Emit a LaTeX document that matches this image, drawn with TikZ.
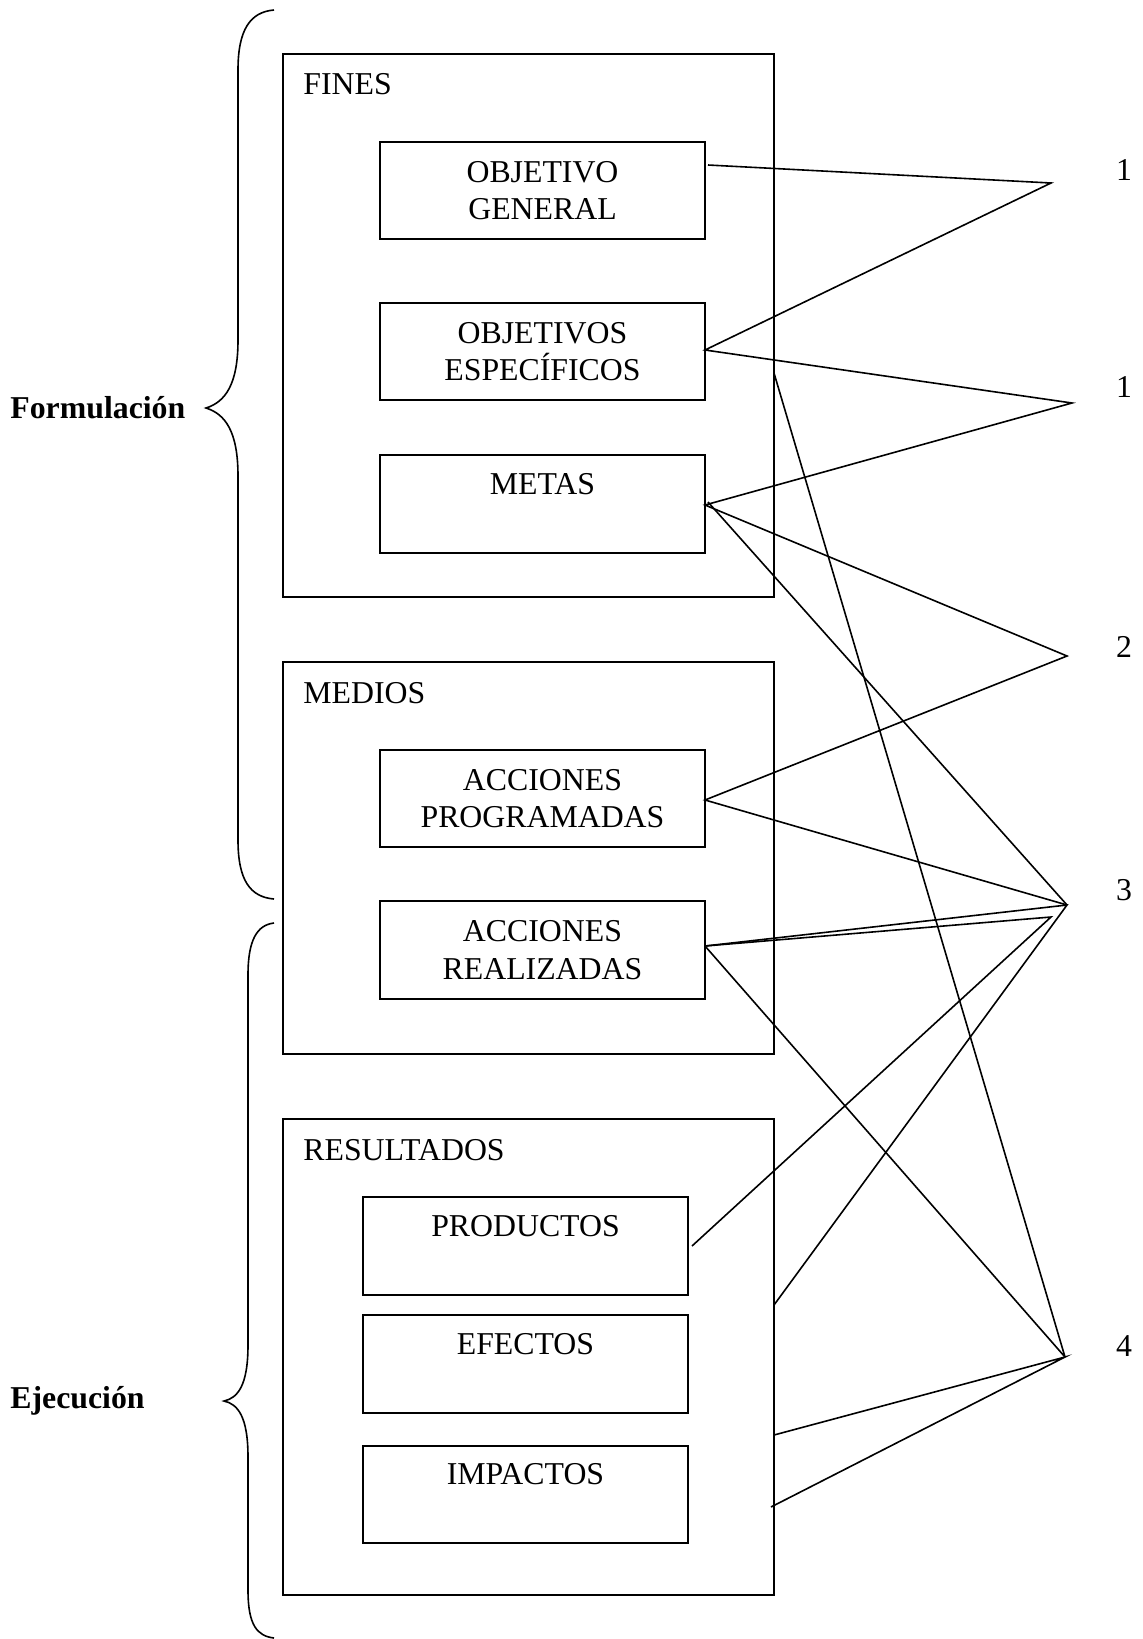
\documentclass[tikz,border=0pt]{standalone}
\usepackage{fontspec}
\setmainfont{Liberation Serif}
\begin{document}
\begin{tikzpicture}[x=0.5pt,y=-0.5pt,
  frame/.style={draw, line width=0.9pt, inner sep=0pt},
  txt/.style={font=\fontsize{15.9}{18.8}\selectfont, align=center, inner sep=0pt},
  lbl/.style={font=\fontsize{15.9}{18.8}\selectfont, anchor=west, inner sep=0pt},
  conn/.style={line width=0.8pt},
  brace/.style={line width=0.8pt}]
\useasboundingbox (0,0) rectangle (1143,1639);
% outer boxes
\node[frame, minimum width=491pt*0.5, minimum height=543pt*0.5] (fines) at (528.5,325.5) {};
\node[frame, minimum width=491pt*0.5, minimum height=392pt*0.5] (medios) at (528.5,858) {};
\node[frame, minimum width=491pt*0.5, minimum height=476pt*0.5] (result) at (528.5,1357) {};
\node[lbl] (finesT) at (303,84) {FINES};
\node[lbl] (mediosT) at (303,693) {MEDIOS};
\node[lbl] (resultT) at (303,1150) {RESULTADOS};
% inner boxes
\node[frame, minimum width=325pt*0.5, minimum height=97pt*0.5] (ogen) at (542.5,190.5) {};
\node[txt] (ogenT) at (542.5,190.5) {OBJETIVO\\GENERAL};
\node[frame, minimum width=325pt*0.5, minimum height=97pt*0.5] (oesp) at (542.5,351.5) {};
\node[txt] (oespT) at (542.5,351.5) {OBJETIVOS\\ESPECÍFICOS};
\node[frame, minimum width=325pt*0.5, minimum height=98pt*0.5] (metas) at (542.5,504) {};
\node[txt] (metasT) at (542.5,484) {METAS};
\node[frame, minimum width=325pt*0.5, minimum height=97pt*0.5] (aprog) at (542.5,798.5) {};
\node[txt] (aprogT) at (542.5,798.5) {ACCIONES\\PROGRAMADAS};
\node[frame, minimum width=325pt*0.5, minimum height=98pt*0.5] (areal) at (542.5,950) {};
\node[txt] (arealT) at (542.5,950) {ACCIONES\\REALIZADAS};
\node[frame, minimum width=325pt*0.5, minimum height=98pt*0.5] (prod) at (525.5,1246) {};
\node[txt] (prodT) at (525.5,1226) {PRODUCTOS};
\node[frame, minimum width=325pt*0.5, minimum height=98pt*0.5] (efec) at (525.5,1364) {};
\node[txt] (efecT) at (525.5,1344) {EFECTOS};
\node[frame, minimum width=325pt*0.5, minimum height=97pt*0.5] (impa) at (525.5,1494.5) {};
\node[txt] (impaT) at (525.5,1474) {IMPACTOS};
% numbers
\node[txt] (n1a) at (1124,170) {1};
\node[txt] (n1b) at (1124,387) {1};
\node[txt] (n2) at (1124,647) {2};
\node[txt] (n3) at (1124,890) {3};
\node[txt] (n4) at (1124,1346) {4};
% side labels
\node[txt, font=\fontsize{15.9}{18.8}\selectfont\bfseries, anchor=west] (form) at (10,408) {Formulación};
\node[txt, font=\fontsize{15.9}{18.8}\selectfont\bfseries, anchor=west] (ejec) at (10,1401) {Ejecución};
% braces
\draw[brace] (274,10) .. controls (250,12) and (238,30) .. (238,70) -- (238,340)
  .. controls (238,385) and (225,402) .. (206,408)
  .. controls (225,414) and (238,431) .. (238,476) -- (238,840)
  .. controls (238,880) and (250,897) .. (274,899);
\draw[brace] (274,923) .. controls (257,925) and (248,940) .. (248,975) -- (248,1345)
  .. controls (248,1385) and (238,1398) .. (224,1401)
  .. controls (238,1404) and (248,1417) .. (248,1457) -- (248,1590)
  .. controls (248,1625) and (257,1636) .. (274,1638);
% connector vertices and ends
\coordinate (v1) at (1051,183);
\coordinate (v2) at (1072,403);
\coordinate (v3) at (1067,656);
\coordinate (v4) at (1067,905);
\coordinate (v4b) at (1051,917);
\coordinate (v5) at (1065,1357);
\coordinate (pogen) at (708,165);
\coordinate (poesp) at (705,350);
\coordinate (pmetas) at (705,505);
\coordinate (pmetas2) at (708,502);
\coordinate (paprog) at (705,800);
\coordinate (pareal) at (705,946);
\coordinate (pfines) at (774,373);
\coordinate (pprod) at (692,1246);
\coordinate (pres1) at (774,1305);
\coordinate (pres2) at (774,1435);
\coordinate (pres3) at (771,1507);
\draw[conn] (pogen) -- (v1) -- (poesp) -- (v2) -- (pmetas) -- (v3) -- (paprog) -- (v4);
\draw[conn] (pmetas2) -- (v4);
\draw[conn] (pareal) -- (v4) -- (pres1);
\draw[conn] (pareal) -- (v4b) -- (pprod);
\draw[conn] (pareal) -- (v5);
\draw[conn] (pfines) -- (v5);
\draw[conn] (pres2) -- (v5) -- (pres3);
\end{tikzpicture}
\end{document}
